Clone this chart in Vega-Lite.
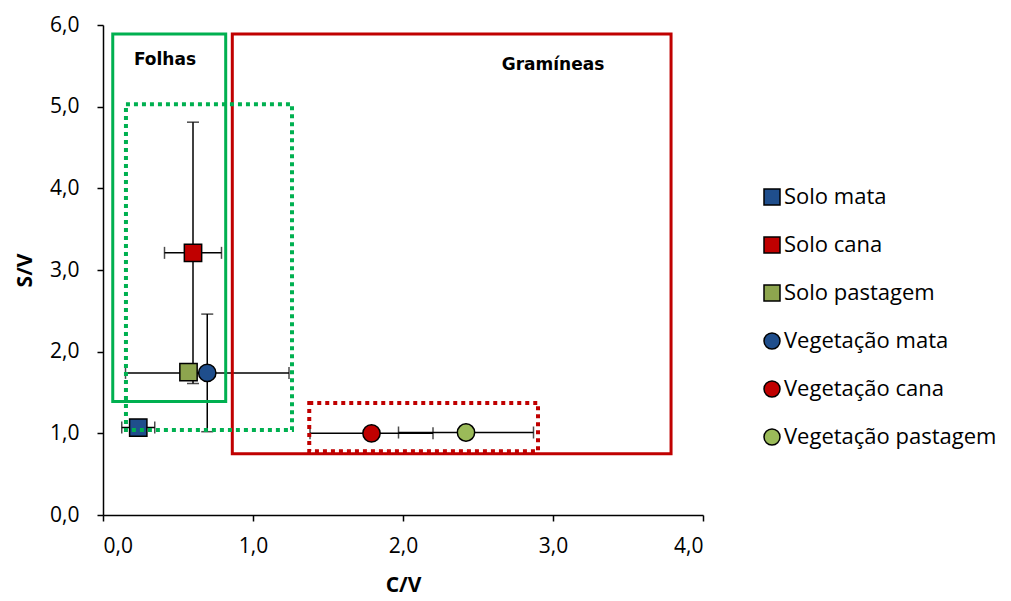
{
  "$schema": "https://vega.github.io/schema/vega-lite/v6.json",
  "width": 600,
  "height": 490,
  "autosize": {"type": "none"},
  "padding": {"left": 103, "top": 25, "right": 308, "bottom": 86},
  "background": "white",
  "config": {
    "view": {"stroke": null},
    "font": "Open Sans",
    "axis": {"grid": false, "domainColor": "black", "domainWidth": 1.5, "tickColor": "black", "tickWidth": 1.5, "tickSize": 6, "labelFont": "Open Sans", "labelFontSize": 21, "labelColor": "#000", "titleFont": "Open Sans", "titleFontSize": 21, "titleFontWeight": "bold", "titleColor": "#000"},
    "legend": {"labelFont": "Open Sans", "labelFontSize": 22, "labelColor": "#000", "labelLimit": 400}
  },
  "datasets": {
    "pts": [
      {"serie": "Solo mata", "cv": 0.235, "sv": 1.07, "ecv": 0.11, "esv": 0},
      {"serie": "Solo cana", "cv": 0.6, "sv": 3.21, "ecv": 0.19, "esv": 1.6},
      {"serie": "Solo pastagem", "cv": 0.57, "sv": 1.75, "ecv": 0, "esv": 0},
      {"serie": "Vegetação mata", "cv": 0.695, "sv": 1.74, "ecv": 0.545, "esv": 0.72},
      {"serie": "Vegetação cana", "cv": 1.79, "sv": 1.0, "ecv": 0.41, "esv": 0},
      {"serie": "Vegetação pastagem", "cv": 2.42, "sv": 1.01, "ecv": 0.45, "esv": 0}
    ],
    "boxes": [
      {"nome": "Folhas", "x1": 0.065, "x2": 0.818, "y1": 1.39, "y2": 5.89, "cor": "#00B050", "tipo": "solid"},
      {"nome": "Gramíneas", "x1": 0.862, "x2": 3.787, "y1": 0.75, "y2": 5.89, "cor": "#C00000", "tipo": "solid"},
      {"nome": "Folhas pontilhado", "x1": 0.153, "x2": 1.26, "y1": 1.04, "y2": 5.03, "cor": "#00B050", "tipo": "dot"},
      {"nome": "Gramíneas pontilhado", "x1": 1.375, "x2": 2.9, "y1": 0.78, "y2": 1.37, "cor": "#C00000", "tipo": "dot"}
    ],
    "labels": [
      {"txt": "Folhas", "cv": 0.413, "sv": 5.57},
      {"txt": "Gramíneas", "cv": 3.0, "sv": 5.51}
    ]
  },
  "layer": [
    {
      "data": {"name": "pts"},
      "transform": [{"filter": "datum.ecv > 0"}],
      "mark": {"type": "errorbar", "color": "black", "ticks": {"size": 12, "thickness": 1.5, "color": "black"}, "rule": {"strokeWidth": 1.5, "color": "black"}},
      "encoding": {
        "x": {"field": "cv", "type": "quantitative", "scale": {"domain": [0, 4]}, "title": "C/V"},
        "xError": {"field": "ecv"},
        "y": {"field": "sv", "type": "quantitative", "scale": {"domain": [0, 6]}, "title": "S/V"}
      }
    },
    {
      "data": {"name": "pts"},
      "transform": [{"filter": "datum.esv > 0"}],
      "mark": {"type": "errorbar", "color": "black", "ticks": {"size": 12, "thickness": 1.5, "color": "black"}, "rule": {"strokeWidth": 1.5, "color": "black"}},
      "encoding": {
        "x": {"field": "cv", "type": "quantitative", "title": "C/V"},
        "y": {"field": "sv", "type": "quantitative", "title": "S/V"},
        "yError": {"field": "esv"}
      }
    },
    {
      "data": {"name": "pts"},
      "mark": {"type": "point", "filled": true, "opacity": 1, "stroke": "black", "strokeWidth": 1.5, "size": 300},
      "encoding": {
        "x": {"field": "cv", "type": "quantitative", "title": "C/V", "scale": {"domain": [0, 4]}, "axis": {"values": [0, 1, 2, 3, 4], "labelExpr": "replace(format(datum.value, '.1f'), '.', ',')", "labelPadding": 14, "titlePadding": 18}},
        "y": {"field": "sv", "type": "quantitative", "title": "S/V", "scale": {"domain": [0, 6]}, "axis": {"values": [0, 1, 2, 3, 4, 5, 6], "labelExpr": "replace(format(datum.value, '.1f'), '.', ',')", "labelPadding": 18, "titlePadding": 14}},
        "color": {"field": "serie", "type": "nominal", "sort": null,
          "scale": {"domain": ["Solo mata", "Solo cana", "Solo pastagem", "Vegetação mata", "Vegetação cana", "Vegetação pastagem"],
                    "range": ["#1F4E8C", "#C00000", "#8DA54E", "#1F4E8C", "#C00000", "#9BBB59"]},
          "legend": {"title": null, "orient": "none", "legendX": 658, "legendY": 161, "padding": 0, "rowPadding": 26, "symbolSize": 256, "symbolStrokeColor": "black", "symbolStrokeWidth": 1.5, "labelOffset": 1}},
        "shape": {"field": "serie", "type": "nominal", "sort": null,
          "scale": {"domain": ["Solo mata", "Solo cana", "Solo pastagem", "Vegetação mata", "Vegetação cana", "Vegetação pastagem"],
                    "range": ["square", "square", "square", "circle", "circle", "circle"]},
          "legend": {"title": null, "orient": "none", "legendX": 658, "legendY": 161, "padding": 0, "rowPadding": 26, "symbolSize": 256, "symbolStrokeColor": "black", "symbolStrokeWidth": 1.5, "labelOffset": 1}}
      }
    },
    {
      "data": {"name": "boxes"},
      "transform": [{"filter": "datum.tipo == 'solid'"}],
      "mark": {"type": "rect", "fill": null, "fillOpacity": 0, "strokeWidth": 3},
      "encoding": {
        "x": {"field": "x1", "type": "quantitative"},
        "x2": {"field": "x2"},
        "y": {"field": "y1", "type": "quantitative"},
        "y2": {"field": "y2"},
        "stroke": {"field": "cor", "type": "nominal", "scale": null}
      }
    },
    {
      "data": {"name": "boxes"},
      "transform": [{"filter": "datum.tipo == 'dot'"}],
      "mark": {"type": "rect", "fill": null, "fillOpacity": 0, "strokeWidth": 4, "strokeDash": [4, 4]},
      "encoding": {
        "x": {"field": "x1", "type": "quantitative"},
        "x2": {"field": "x2"},
        "y": {"field": "y1", "type": "quantitative"},
        "y2": {"field": "y2"},
        "stroke": {"field": "cor", "type": "nominal", "scale": null}
      }
    },
    {
      "data": {"name": "labels"},
      "mark": {"type": "text", "font": "DejaVu Sans", "fontWeight": "bold", "fontSize": 17, "color": "black"},
      "encoding": {
        "x": {"field": "cv", "type": "quantitative"},
        "y": {"field": "sv", "type": "quantitative"},
        "text": {"field": "txt"}
      }
    }
  ]
}
